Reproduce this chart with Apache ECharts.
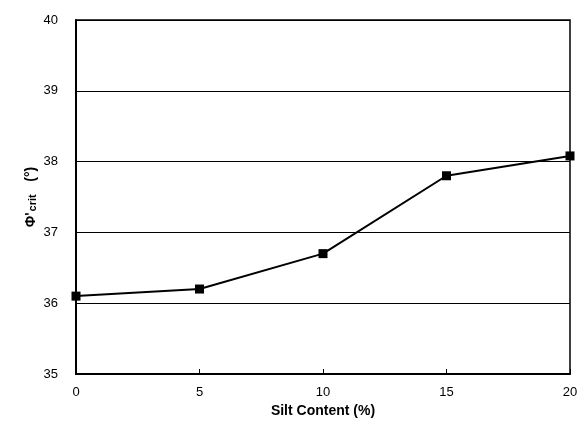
<!DOCTYPE html>
<html>
<head>
<meta charset="utf-8">
<script src="https://cdn.jsdelivr.net/npm/echarts@6/dist/echarts.min.js"></script>
<style>
  html, body { margin: 0; padding: 0; background: #fff; }
  #chart { width: 586px; height: 430px; }
</style>
</head>
<body>
<div id="chart"></div>
<script>
// Critical-state friction angle versus silt content
const siltContent = [0, 5, 10, 15, 20];          // %
const phiCrit = [36.1, 36.2, 36.7, 37.8, 38.08];  // degrees

const FONT = '"Liberation Sans", Arial, sans-serif';

const chart = echarts.init(document.getElementById('chart'));
chart.setOption({
  backgroundColor: '#fff',
  animation: false,
  grid: { left: 76, right: 16, top: 20, bottom: 56, show: true, borderColor: '#000', borderWidth: 1.5 },
  xAxis: {
    type: 'value',
    min: 0, max: 20, interval: 5,
    name: 'Silt Content (%)',
    nameLocation: 'middle',
    nameGap: 28,
    nameTextStyle: { fontFamily: FONT, fontWeight: 'bold', fontSize: 14, color: '#000' },
    axisLine: { lineStyle: { color: '#000', width: 2 } },
    axisTick: { inside: true, length: 5, lineStyle: { color: '#000', width: 1 } },
    axisLabel: { fontFamily: FONT, fontSize: 13, color: '#000', margin: 12 },
    splitLine: { show: false }
  },
  yAxis: {
    type: 'value',
    min: 35, max: 40, interval: 1,
    name: '{s|Φ}{s|\'}{sub|crit}{s|   (°)}',
    nameLocation: 'middle',
    nameRotate: 90,
    nameGap: 38,
    nameMoveOverlap: false,
    nameTextStyle: {
      rich: {
        s: { fontFamily: FONT, fontWeight: 'bold', fontSize: 14, color: '#000', verticalAlign: 'bottom', lineHeight: 18 },
        sub: { fontFamily: FONT, fontWeight: 'bold', fontSize: 11, color: '#000', verticalAlign: 'bottom', lineHeight: 14, padding: [0, 1, 0, 1] }
      }
    },
    axisLine: { show: true, lineStyle: { color: '#000', width: 2 } },
    axisTick: { show: false },
    axisLabel: { fontFamily: FONT, fontSize: 13, color: '#000', margin: 18 },
    splitLine: { show: true, lineStyle: { color: '#000', width: 1 } }
  },
  series: [{
    type: 'line',
    data: siltContent.map((x, i) => [x, phiCrit[i]]),
    symbol: 'rect',
    symbolSize: 9,
    lineStyle: { color: '#000', width: 2 },
    itemStyle: { color: '#000' },
    clip: false
  }]
});
</script>
</body>
</html>
